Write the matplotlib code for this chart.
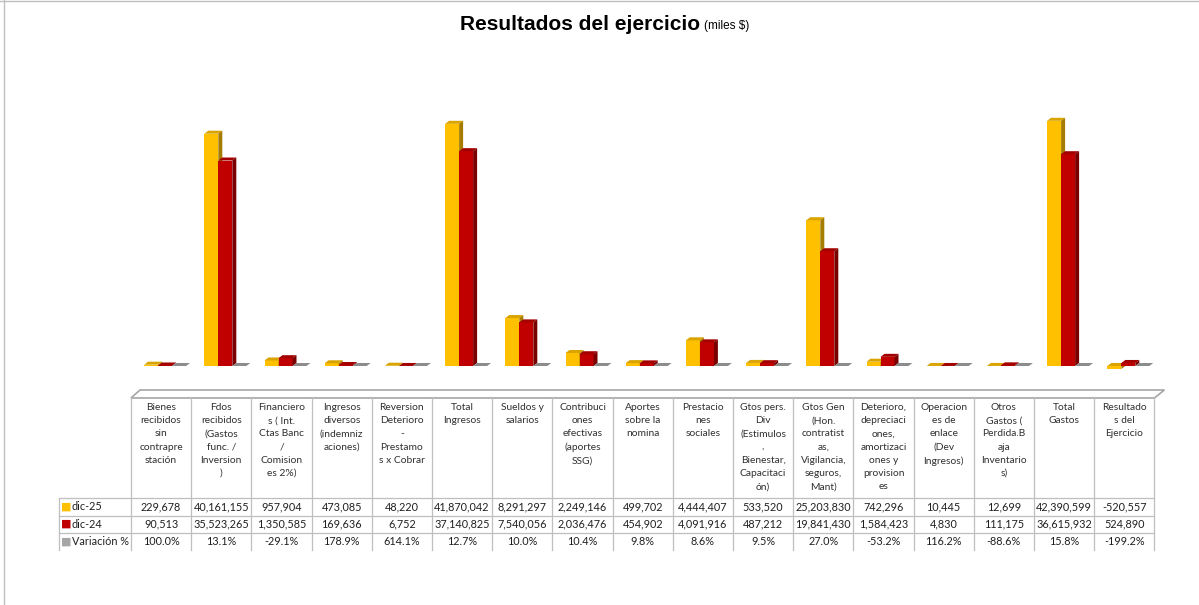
import matplotlib
matplotlib.use('Agg')
import matplotlib.pyplot as plt
from matplotlib.patches import Polygon
from matplotlib.lines import Line2D

# Datos (miles $)
categorias = [
    "Bienes\nrecibidos\nsin\ncontrapre\nstación",
    "Fdos\nrecibidos\n(Gastos\nfunc. /\nInversion\n)",
    "Financiero\ns ( Int.\nCtas Banc\n/\nComision\nes 2%)",
    "Ingresos\ndiversos\n(indemniz\naciones)",
    "Reversion\nDeterioro\n-\nPrestamo\ns x Cobrar",
    "Total\nIngresos",
    "Sueldos y\nsalarios",
    "Contribuci\nones\nefectivas\n(aportes\nSSG)",
    "Aportes\nsobre la\nnomina",
    "Prestacio\nnes\nsociales",
    "Gtos pers.\nDiv\n(Estimulos\n,\nBienestar,\nCapacitaci\nón)",
    "Gtos Gen\n(Hon.\ncontratist\nas,\nVigilancia,\nseguros,\nMant)",
    "Deterioro,\ndepreciaci\nones,\namortizaci\nones y\nprovision\nes",
    "Operacion\nes de\nenlace\n(Dev\nIngresos)",
    "Otros\nGastos (\nPerdida.B\naja\nInventario\ns)",
    "Total\nGastos",
    "Resultado\ns del\nEjercicio",
]
dic25 = [229678, 40161155, 957904, 473085, 48220, 41870042, 8291297, 2249146,
         499702, 4444407, 533520, 25203830, 742296, 10445, 12699, 42390599, -520557]
dic24 = [90513, 35523265, 1350585, 169636, 6752, 37140825, 7540056, 2036476,
         454902, 4091916, 487212, 19841430, 1584423, 4830, 111175, 36615932, 524890]
variacion = [100.0, 13.1, -29.1, 178.9, 614.1, 12.7, 10.0, 10.4, 9.8, 8.6, 9.5,
             27.0, -53.2, 116.2, -88.6, 15.8, -199.2]
series_nombres = ["dic-25", "dic-24", "Variación %"]

W, H = 1199, 605
fig = plt.figure(figsize=(W / 100, H / 100), dpi=100)
fig.patch.set_facecolor('white')


def fx(x):
    return x / W


def fy(y):
    return 1 - y / H


n = len(categorias)
col_w = 60.2
tab_x0 = 131

# --- zona de barras (pseudo 3D) ---
ax = fig.add_axes([fx(135), fy(380), col_w * n / W, 320 / H])
ax.set_xlim(-0.5, n - 0.5)
ax.set_ylim(-2.42e6, 52.9e6)
ax.axis('off')

px_x = 1.0 / col_w                      # unidades x por pixel
px_y = (52.9e6 + 2.42e6) / 320.0        # unidades y por pixel
dx, dy = 4 * px_x, 3 * px_y
bw = 14 * px_x

estilos = [
    ('#FFC000', '#D9A300', '#A67C00'),
    ('#C00000', '#A30000', '#7A0000'),
    ('#A6A6A6', '#8C8C8C', '#7F7F7F'),
]
valores = [dic25, dic24, [v / 100 for v in variacion]]

for k, (vals, (front, top, side)) in enumerate(zip(valores, estilos)):
    xs = [i + (k - 1) * bw for i in range(n)]
    z = 2 + k * 3
    ax.bar(xs, vals, width=bw, color=front, linewidth=0, zorder=z)
    for x, v in zip(xs, vals):
        x0, x1 = x - bw / 2, x + bw / 2
        t = max(v, 0)
        b = min(v, 0)
        ax.add_patch(Polygon([(x0, t), (x1, t), (x1 + dx, t + dy), (x0 + dx, t + dy)],
                             closed=True, facecolor=top, edgecolor='none', zorder=z + 1))
        ax.add_patch(Polygon([(x1, b), (x1, t), (x1 + dx, t + dy), (x1 + dx, b + dy)],
                             closed=True, facecolor=side, edgecolor='none', zorder=z + 1))

# --- titulo ---
fig.text(fx(700), fy(25), "Resultados del ejercicio", ha='right', va='center',
         fontsize=15, fontweight='bold', family='Liberation Sans', color='#000000')
fig.text(fx(704), fy(26.5), "(miles $)", ha='left', va='center',
         fontsize=8.5, family='Liberation Sans', color='#000000')

# --- borde del grafico ---
line_c = '#BFBFBF'
fig.add_artist(Line2D([fx(4), fx(4)], [fy(0), fy(605)], color=line_c, lw=1))
fig.add_artist(Line2D([fx(0), fx(1199)], [fy(1), fy(1)], color=line_c, lw=1))

# --- piso 3D ---
tab_x1 = tab_x0 + col_w * n
fig.add_artist(Polygon([(fx(tab_x0), fy(398)), (fx(tab_x1), fy(398)),
                        (fx(tab_x1 + 10), fy(390)), (fx(tab_x0 + 9), fy(390))],
                       closed=True, facecolor='white', edgecolor='#A6A6A6', lw=1.2))

# --- tabla de datos ---
row_y = [498, 516, 533]
for y in row_y:
    fig.add_artist(Line2D([fx(59), fx(tab_x1)], [fy(y), fy(y)], color=line_c, lw=0.9))
fig.add_artist(Line2D([fx(59), fx(59)], [fy(498), fy(550)], color=line_c, lw=0.9))
for k in range(n + 1):
    xe = tab_x0 + col_w * k
    fig.add_artist(Line2D([fx(xe), fx(xe)], [fy(398), fy(550)], color=line_c, lw=0.9))

tfont = 'Lato'
for i, cat in enumerate(categorias):
    cx = tab_x0 + col_w * (i + 0.5)
    fig.text(fx(cx), fy(403), cat, ha='center', va='top', fontsize=7.4,
             family=tfont, color='#303030', linespacing=1.6)
    fig.text(fx(cx), fy(507), f"{dic25[i]:,}", ha='center', va='center',
             fontsize=7.8, family=tfont, color='#202020')
    fig.text(fx(cx), fy(524), f"{dic24[i]:,}", ha='center', va='center',
             fontsize=7.8, family=tfont, color='#202020')
    fig.text(fx(cx), fy(541.5), f"{variacion[i]:.1f}%", ha='center', va='center',
             fontsize=7.8, family=tfont, color='#202020')

for nombre, (front, _, _), y in zip(series_nombres, estilos, [507, 524, 541.5]):
    fig.text(fx(61), fy(y), "\u25A0", ha='left', va='center', fontsize=8,
             color=front, family='DejaVu Sans')
    fig.text(fx(72), fy(y), nombre, ha='left', va='center', fontsize=7.8,
             family=tfont, color='#202020')

fig.savefig('out.png', dpi=100, facecolor='white')
